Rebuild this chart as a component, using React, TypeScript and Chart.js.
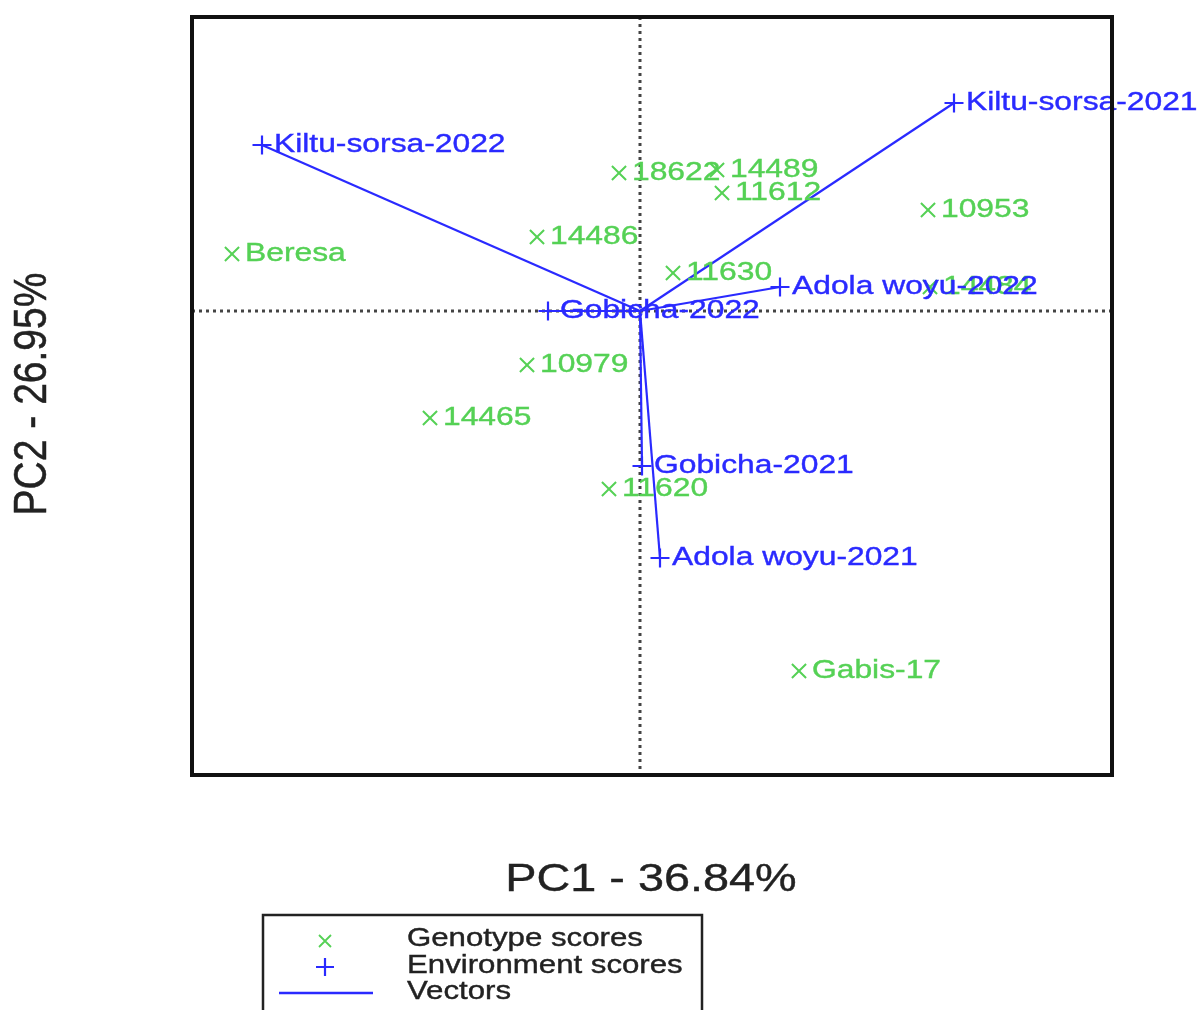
import React, { useEffect, useRef } from "react";
import { Chart, registerables } from "chart.js";

Chart.register(...registerables);

// Genotype scores (PC1, PC2)
const genotypeNames = ["Beresa", "18622", "14489", "11612", "10953", "14486", "11630", "14484", "10979", "14465", "11620", "Gabis-17"];
const genotypePC1 = [-4.08, -0.21, 0.77, 0.82, 2.88, -1.03, 0.33, 2.90, -1.13, -2.1, -0.31, 1.59];
const genotypePC2 = [0.57, 1.38, 1.41, 1.18, 1.01, 0.74, 0.38, 0.24, -0.54, -1.07, -1.78, -3.60];

// Environment scores (PC1, PC2)
const environmentNames = ["Kiltu-sorsa-2022", "Kiltu-sorsa-2021", "Adola woyu-2022", "Gobicha-2022", "Gobicha-2021", "Adola woyu-2021"];
const environmentPC1 = [-3.78, 3.14, 1.40, -0.92, 0.02, 0.20];
const environmentPC2 = [1.66, 2.08, 0.24, 0.0, -1.55, -2.47];

// Axis titles and legend entries
const xTitle = "PC1 - 36.84%";
const yTitle = "PC2 - 26.95%";
const legendLabels = ["Genotype scores", "Environment scores", "Vectors"];

const GREEN = "#55d155";
const BLUE = "#2a2aff";
const FONT = '"Liberation Sans", Arial, Helvetica, sans-serif';
const SX = 1.2; // horizontal text stretch

function drawText(
  ctx: CanvasRenderingContext2D,
  text: string,
  x: number,
  y: number,
  size: number,
  color: string,
  align: CanvasTextAlign = "left",
  rotate = false
) {
  ctx.save();
  ctx.translate(x, y);
  ctx.scale(SX, 1);
  if (rotate) ctx.rotate(-Math.PI / 2);
  ctx.font = `${size}px ${FONT}`;
  ctx.fillStyle = color;
  ctx.strokeStyle = color;
  ctx.lineWidth = 0.4;
  ctx.textAlign = align;
  ctx.textBaseline = "middle";
  ctx.fillText(text, 0, 0);
  ctx.strokeText(text, 0, 0);
  ctx.restore();
}

const biplotDecor = {
  id: "biplotDecor",
  beforeDatasetsDraw(chart: any) {
    const { ctx, chartArea, scales } = chart;
    const x0 = scales.x.getPixelForValue(0);
    const y0 = scales.y.getPixelForValue(0);
    ctx.save();
    ctx.strokeStyle = "#444";
    ctx.lineWidth = 3;
    ctx.setLineDash([3, 4]);
    ctx.beginPath();
    ctx.moveTo(x0, chartArea.top);
    ctx.lineTo(x0, chartArea.bottom);
    ctx.moveTo(chartArea.left, y0);
    ctx.lineTo(chartArea.right, y0);
    ctx.stroke();
    ctx.restore();
  },
  afterDatasetsDraw(chart: any) {
    const { ctx, chartArea, scales } = chart;
    const sx = scales.x;
    const sy = scales.y;

    // point labels: genotypes first, environments on top
    genotypeNames.forEach((name, i) => {
      drawText(ctx, name, sx.getPixelForValue(genotypePC1[i]) + 13, sy.getPixelForValue(genotypePC2[i]), 26.5, GREEN);
    });
    environmentNames.forEach((name, i) => {
      drawText(ctx, name, sx.getPixelForValue(environmentPC1[i]) + 12, sy.getPixelForValue(environmentPC2[i]), 26.5, BLUE);
    });

    // plot frame
    ctx.save();
    ctx.strokeStyle = "#111";
    ctx.lineWidth = 4;
    ctx.strokeRect(chartArea.left, chartArea.top, chartArea.right - chartArea.left, chartArea.bottom - chartArea.top);
    ctx.restore();

    // axis titles
    drawText(ctx, xTitle, 651, 880, 39, "#222", "center");
    drawText(ctx, yTitle, 33, 394, 39, "#222", "center", true);

    // legend
    const lx = 263;
    const ly = 915;
    ctx.save();
    ctx.strokeStyle = "#222";
    ctx.lineWidth = 2.5;
    ctx.strokeRect(lx, ly, 702 - lx, 120);
    ctx.lineWidth = 1.8;
    ctx.strokeStyle = GREEN;
    const gx = 325;
    const gy = 941;
    ctx.beginPath();
    ctx.moveTo(gx - 6, gy - 6);
    ctx.lineTo(gx + 6, gy + 6);
    ctx.moveTo(gx - 6, gy + 6);
    ctx.lineTo(gx + 6, gy - 6);
    ctx.stroke();
    ctx.strokeStyle = BLUE;
    ctx.lineWidth = 2.2;
    const ey = 967;
    ctx.beginPath();
    ctx.moveTo(gx - 9, ey);
    ctx.lineTo(gx + 9, ey);
    ctx.moveTo(gx, ey - 9);
    ctx.lineTo(gx, ey + 9);
    ctx.stroke();
    ctx.lineWidth = 2.5;
    ctx.beginPath();
    ctx.moveTo(279, 993);
    ctx.lineTo(373, 993);
    ctx.stroke();
    ctx.restore();
    legendLabels.forEach((t, i) => {
      drawText(ctx, t, 407, 939 + i * 26.5, 26, "#222");
    });
  },
};

export default function App() {
  const canvasRef = useRef<HTMLCanvasElement | null>(null);

  useEffect(() => {
    document.body.style.margin = "0";
    const canvas = canvasRef.current;
    if (!canvas) return;

    const vectorSets = environmentNames.map((name, i) => ({
      type: "scatter" as const,
      label: `vector ${name}`,
      data: [
        { x: 0, y: 0 },
        { x: environmentPC1[i], y: environmentPC2[i] },
      ],
      showLine: true,
      borderColor: BLUE,
      borderWidth: 2.2,
      pointRadius: 0,
      fill: false,
    }));

    const chart = new Chart(canvas, {
      type: "scatter",
      data: {
        datasets: [
          ...vectorSets,
          {
            label: "Genotype scores",
            data: genotypeNames.map((_, i) => ({ x: genotypePC1[i], y: genotypePC2[i] })),
            pointStyle: "crossRot",
            pointRadius: 10,
            borderColor: GREEN,
            backgroundColor: GREEN,
            borderWidth: 2,
          },
          {
            label: "Environment scores",
            data: environmentNames.map((_, i) => ({ x: environmentPC1[i], y: environmentPC2[i] })),
            pointStyle: "cross",
            pointRadius: 9.5,
            borderColor: BLUE,
            backgroundColor: BLUE,
            borderWidth: 2.2,
          },
        ],
      },
      options: {
        responsive: false,
        devicePixelRatio: 1,
        animation: false,
        layout: { padding: { left: 192, top: 17, right: 1197 - 1112, bottom: 1010 - 775 } },
        plugins: { legend: { display: false }, tooltip: { enabled: false } },
        scales: {
          x: { type: "linear", min: -4.48, max: 4.72, display: false },
          y: { type: "linear", min: -4.64, max: 2.94, display: false },
        },
      },
      plugins: [biplotDecor],
    });

    return () => chart.destroy();
  }, []);

  return (
    <div style={{ width: 1197, height: 1010, background: "#fff" }}>
      <canvas ref={canvasRef} width={1197} height={1010} style={{ display: "block" }} />
    </div>
  );
}
